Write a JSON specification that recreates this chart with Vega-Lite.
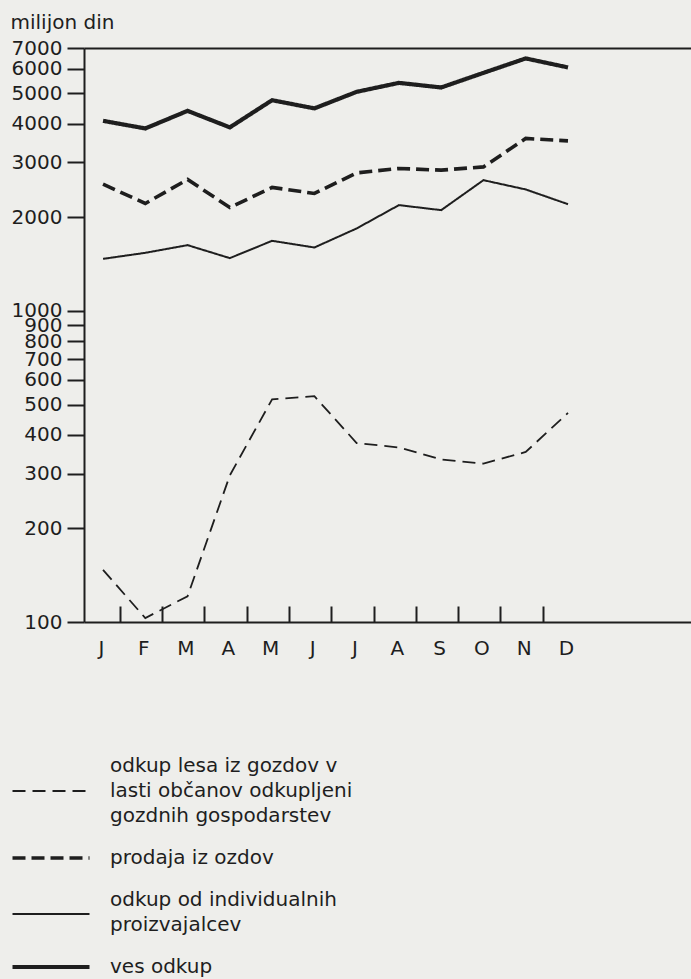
{
  "$schema": "https://vega.github.io/schema/vega-lite/v6.json",
  "width": 607,
  "height": 574,
  "autosize": {"type": "none"},
  "padding": {"left": 84, "top": 48, "right": 0, "bottom": 357},
  "background": "#eeeeeb",
  "config": {
    "view": {"stroke": null},
    "font": "DejaVu Sans",
    "style": {"guide-label": {"lineHeight": 25}},
    "axis": {
      "domainColor": "#1e1e1e", "tickColor": "#1e1e1e", "labelColor": "#1e1e1e",
      "labelFont": "DejaVu Sans", "labelFontSize": 20, "domainWidth": 2, "tickWidth": 2,
      "titleFont": "DejaVu Sans", "titleColor": "#1e1e1e", "titleFontWeight": "normal", "titleFontSize": 20
    },
    "legend": {"labelFont": "DejaVu Sans", "labelFontSize": 20, "labelColor": "#1e1e1e"}
  },
  "data": {"values": [
    {"s": "odkup lesa iz gozdov v lasti občanov odkupljeni gozdnih gospodarstev", "m": 1, "v": 147},
    {"s": "odkup lesa iz gozdov v lasti občanov odkupljeni gozdnih gospodarstev", "m": 2, "v": 103},
    {"s": "odkup lesa iz gozdov v lasti občanov odkupljeni gozdnih gospodarstev", "m": 3, "v": 121},
    {"s": "odkup lesa iz gozdov v lasti občanov odkupljeni gozdnih gospodarstev", "m": 4, "v": 296},
    {"s": "odkup lesa iz gozdov v lasti občanov odkupljeni gozdnih gospodarstev", "m": 5, "v": 520},
    {"s": "odkup lesa iz gozdov v lasti občanov odkupljeni gozdnih gospodarstev", "m": 6, "v": 532},
    {"s": "odkup lesa iz gozdov v lasti občanov odkupljeni gozdnih gospodarstev", "m": 7, "v": 376},
    {"s": "odkup lesa iz gozdov v lasti občanov odkupljeni gozdnih gospodarstev", "m": 8, "v": 364},
    {"s": "odkup lesa iz gozdov v lasti občanov odkupljeni gozdnih gospodarstev", "m": 9, "v": 333},
    {"s": "odkup lesa iz gozdov v lasti občanov odkupljeni gozdnih gospodarstev", "m": 10, "v": 323},
    {"s": "odkup lesa iz gozdov v lasti občanov odkupljeni gozdnih gospodarstev", "m": 11, "v": 352},
    {"s": "odkup lesa iz gozdov v lasti občanov odkupljeni gozdnih gospodarstev", "m": 12, "v": 470},
    {"s": "prodaja iz ozdov", "m": 1, "v": 2555},
    {"s": "prodaja iz ozdov", "m": 2, "v": 2215},
    {"s": "prodaja iz ozdov", "m": 3, "v": 2646},
    {"s": "prodaja iz ozdov", "m": 4, "v": 2150},
    {"s": "prodaja iz ozdov", "m": 5, "v": 2494},
    {"s": "prodaja iz ozdov", "m": 6, "v": 2385},
    {"s": "prodaja iz ozdov", "m": 7, "v": 2778},
    {"s": "prodaja iz ozdov", "m": 8, "v": 2870},
    {"s": "prodaja iz ozdov", "m": 9, "v": 2834},
    {"s": "prodaja iz ozdov", "m": 10, "v": 2904},
    {"s": "prodaja iz ozdov", "m": 11, "v": 3584},
    {"s": "prodaja iz ozdov", "m": 12, "v": 3521},
    {"s": "odkup od individualnih proizvajalcev", "m": 1, "v": 1470},
    {"s": "odkup od individualnih proizvajalcev", "m": 2, "v": 1537},
    {"s": "odkup od individualnih proizvajalcev", "m": 3, "v": 1627},
    {"s": "odkup od individualnih proizvajalcev", "m": 4, "v": 1478},
    {"s": "odkup od individualnih proizvajalcev", "m": 5, "v": 1680},
    {"s": "odkup od individualnih proizvajalcev", "m": 6, "v": 1599},
    {"s": "odkup od individualnih proizvajalcev", "m": 7, "v": 1841},
    {"s": "odkup od individualnih proizvajalcev", "m": 8, "v": 2188},
    {"s": "odkup od individualnih proizvajalcev", "m": 9, "v": 2108},
    {"s": "odkup od individualnih proizvajalcev", "m": 10, "v": 2632},
    {"s": "odkup od individualnih proizvajalcev", "m": 11, "v": 2457},
    {"s": "odkup od individualnih proizvajalcev", "m": 12, "v": 2203},
    {"s": "ves odkup", "m": 1, "v": 4083},
    {"s": "ves odkup", "m": 2, "v": 3859},
    {"s": "ves odkup", "m": 3, "v": 4396},
    {"s": "ves odkup", "m": 4, "v": 3890},
    {"s": "ves odkup", "m": 5, "v": 4757},
    {"s": "ves odkup", "m": 6, "v": 4477},
    {"s": "ves odkup", "m": 7, "v": 5060},
    {"s": "ves odkup", "m": 8, "v": 5408},
    {"s": "ves odkup", "m": 9, "v": 5226},
    {"s": "ves odkup", "m": 10, "v": 5823},
    {"s": "ves odkup", "m": 11, "v": 6480},
    {"s": "ves odkup", "m": 12, "v": 6062}
  ]},
  "mark": {"type": "line", "color": "#1e1e1e", "strokeCap": "butt", "strokeJoin": "miter"},
  "encoding": {
    "x": {
      "field": "m", "type": "quantitative",
      "scale": {"domain": [0.55, 14.91], "nice": false, "zero": false},
      "axis": {
        "title": null,
        "values": [1.4, 2.4, 3.4, 4.4, 5.4, 6.4, 7.4, 8.4, 9.4, 10.4, 11.4, 12.4],
        "tickSize": -16,
        "labelExpr": "['J','F','M','A','M','J','J','A','S','O','N','D'][floor(datum.value) - 1]",
        "labelOffset": -19,
        "labelPadding": 32,
        "labelFlush": false,
        "labelOverlap": false,
        "tickOpacity": {"condition": {"test": "datum.value > 12", "value": 0}, "value": 1},
        "grid": false
      }
    },
    "y": {
      "field": "v", "type": "quantitative",
      "scale": {"type": "log", "domain": [100, 7000], "nice": false},
      "axis": {
        "title": "milijon din",
        "titleAngle": 0, "titleAlign": "left", "titleBaseline": "alphabetic",
        "titleX": -74, "titleY": -20,
        "values": [100, 200, 300, 400, 500, 600, 700, 800, 900, 1000, 2000, 3000, 4000, 5000, 6000, 7000],
        "format": "d",
        "tickSize": 17,
        "labelPadding": 5,
        "labelOverlap": false,
        "labelFlush": false,
        "grid": true,
        "gridColor": "#1e1e1e",
        "gridWidth": 2,
        "gridOpacity": {"condition": {"test": "datum.value >= 7000", "value": 1}, "value": 0}
      }
    },
    "strokeDash": {
      "field": "s", "type": "nominal",
      "scale": {
        "domain": ["odkup lesa iz gozdov v lasti občanov odkupljeni gozdnih gospodarstev", "prodaja iz ozdov", "odkup od individualnih proizvajalcev", "ves odkup"],
        "range": [[13, 7], [13, 6], [1, 0], [1, 0]]
      },
      "legend": {
        "orient": "none", "legendX": -43, "legendY": 733,
        "title": null, "padding": 0,
        "symbolType": "M-10,0H10", "symbolSize": 59.29, "symbolStrokeColor": "#1e1e1e",
        "labelOffset": 49, "labelLimit": 500, "rowPadding": 22,
        "labelExpr": "datum.label == 'odkup lesa iz gozdov v lasti občanov odkupljeni gozdnih gospodarstev' ? ['odkup lesa iz gozdov v', 'lasti občanov odkupljeni', 'gozdnih gospodarstev'] : datum.label == 'odkup od individualnih proizvajalcev' ? ['odkup od individualnih', 'proizvajalcev'] : datum.label",
        "encoding": {
          "labels": {
            "dy": {"value": {"expr": "datum.index == 0 ? -25 : datum.index == 2 ? -14 : 0"}}
          },
          "symbols": {
            "strokeWidth": {"value": {"expr": "datum.index == 1 ? 3.6 : datum.index == 3 ? 4.2 : datum.index == 2 ? 2 : 1.8"}}
          }
        }
      }
    },
    "strokeWidth": {
      "condition": [
        {"test": "datum.s == 'prodaja iz ozdov'", "value": 3.6},
        {"test": "datum.s == 'ves odkup'", "value": 4.2},
        {"test": "datum.s == 'odkup od individualnih proizvajalcev'", "value": 2}
      ],
      "value": 1.8
    }
  }
}
